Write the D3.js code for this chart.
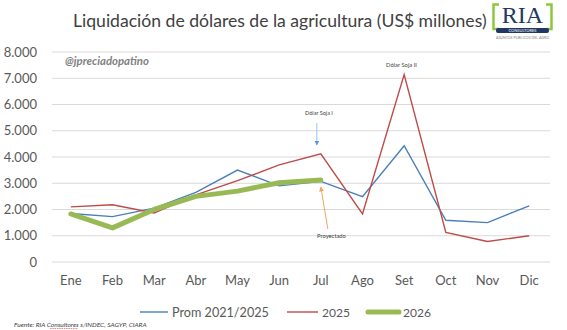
<!DOCTYPE html>
<html>
<head>
<meta charset="utf-8">
<script src="https://cdn.jsdelivr.net/npm/d3@7"></script>
<style>
  body { margin: 0; background: #fff; }
  text { font-family: Lato, "Open Sans", sans-serif; }
</style>
</head>
<body>
<div id="chart"></div>
<script>
// data (US$ millones)
var months = ["Ene", "Feb", "Mar", "Abr", "May", "Jun", "Jul", "Ago", "Set", "Oct", "Nov", "Dic"];
var prom = [1850, 1730, 2050, 2650, 3500, 2900, 3070, 2490, 4430, 1590, 1500, 2140];
var y2025 = [2100, 2180, 1870, 2560, 3100, 3700, 4120, 1830, 7140, 1130, 780, 1000];
var y2026 = [1830, 1300, 2000, 2500, 2700, 3020, 3120];
var yTicks = [0, 1000, 2000, 3000, 4000, 5000, 6000, 7000, 8000];

var W = 567, H = 330;
var margin = {top: 52, right: 17, bottom: 68, left: 50},
    width = W - margin.left - margin.right,
    height = H - margin.top - margin.bottom;

var svg = d3.select("#chart").append("svg")
    .attr("width", W).attr("height", H);

var g = svg.append("g")
    .attr("transform", "translate(" + margin.left + "," + margin.top + ")");

var x = d3.scaleBand().domain(months).range([0, width]);
var y = d3.scaleLinear().domain([0, 8000]).range([height, 0]);
var fmt = function(d) { return d3.format(",")(d).replace(/,/g, "."); };

// shrink/grow a text so it takes the width seen in the picture
function fit(sel, w) {
  sel.each(function() {
    var t = d3.select(this), fs = +t.attr("font-size");
    t.attr("font-size", fs * w / this.getComputedTextLength());
  });
  return sel;
}

// gridlines
g.selectAll(".grid").data(yTicks).enter().append("line")
    .attr("x1", 2).attr("x2", width)
    .attr("y1", function(d) { return y(d); })
    .attr("y2", function(d) { return y(d); })
    .attr("stroke", "#d9d9d9").attr("stroke-width", 1);

// y axis labels
var yAxis = g.append("g").call(d3.axisLeft(y).tickValues(yTicks).tickFormat(fmt).tickSize(0).tickPadding(13));
yAxis.select(".domain").remove();
yAxis.selectAll("text").attr("font-size", 13).attr("fill", "#595959")
    .style("font-family", "Lato, sans-serif");

// x axis labels
var xAxis = g.append("g").attr("transform", "translate(0," + height + ")")
    .call(d3.axisBottom(x).tickSize(0).tickPadding(14));
xAxis.select(".domain").remove();
xAxis.selectAll("text").attr("font-size", 13).attr("fill", "#595959")
    .style("font-family", "Lato, sans-serif");

var line = d3.line()
    .x(function(d, i) { return x(months[i]) + x.bandwidth() / 2; })
    .y(function(d) { return y(d); });

g.append("path").datum(prom).attr("d", line)
    .attr("fill", "none").attr("stroke", "#4a7ebb").attr("stroke-width", 1.4);
g.append("path").datum(y2025).attr("d", line)
    .attr("fill", "none").attr("stroke", "#be4b48").attr("stroke-width", 1.4);
g.append("path").datum(y2026).attr("d", line)
    .attr("fill", "none").attr("stroke", "#98b954").attr("stroke-width", 5)
    .attr("stroke-linecap", "round").attr("stroke-linejoin", "round");

// title
fit(svg.append("text").attr("x", 73).attr("y", 27)
    .attr("font-size", 19).attr("fill", "#404040")
    .text("Liquidación de dólares de la agricultura (US$ millones)"), 414);

// watermark
fit(svg.append("text").attr("x", 65).attr("y", 65)
    .attr("font-size", 11).attr("font-weight", "bold").attr("font-style", "italic")
    .attr("fill", "#7f7f7f").text("@jpreciadopatino"), 84);

// annotations
var cx = function(m) { return margin.left + x(m) + x.bandwidth() / 2; };
var defs = svg.append("defs");
function marker(id, color) {
  defs.append("marker").attr("id", id).attr("viewBox", "0 0 10 10")
    .attr("refX", 9).attr("refY", 5).attr("markerWidth", 5).attr("markerHeight", 5)
    .attr("orient", "auto")
    .append("path").attr("d", "M0,0 L10,5 L0,10 z").attr("fill", color);
}
marker("arrBlue", "#5b9bd5");
marker("arrOrange", "#f4a460");

fit(svg.append("text").attr("x", 305).attr("y", 115)
    .attr("font-size", 6.5).attr("fill", "#404040").text("Dólar Soja I"), 28);
svg.append("line").attr("x1", cx("Jul") - 4).attr("y1", 123).attr("x2", cx("Jul") - 4).attr("y2", 145)
    .attr("stroke", "#9dc3e6").attr("stroke-width", 1).attr("marker-end", "url(#arrBlue)");

fit(svg.append("text").attr("x", 386).attr("y", 67)
    .attr("font-size", 6.5).attr("fill", "#404040").text("Dólar Soja II"), 31);

fit(svg.append("text").attr("x", 317).attr("y", 238)
    .attr("font-size", 6.5).attr("fill", "#404040").text("Proyectado"), 29);
svg.append("line").attr("x1", cx("Jul") + 7).attr("y1", 229).attr("x2", cx("Jul")).attr("y2", 187)
    .attr("stroke", "#f4a460").attr("stroke-width", 1).attr("marker-end", "url(#arrOrange)");

// legend
var legend = [
  {name: "Prom 2021/2025", color: "#4a7ebb", w: 1.4, x: 140, len: 28, tw: 97},
  {name: "2025", color: "#be4b48", w: 1.4, x: 287, len: 31, tw: 28},
  {name: "2026", color: "#98b954", w: 5, x: 368, len: 31, tw: 28}
];
var lg = svg.selectAll(".lg").data(legend).enter().append("g");
lg.append("line").attr("x1", function(d) { return d.x; }).attr("x2", function(d) { return d.x + d.len; })
    .attr("y1", 312).attr("y2", 312)
    .attr("stroke", function(d) { return d.color; }).attr("stroke-width", function(d) { return d.w; })
    .attr("stroke-linecap", function(d) { return d.w > 2 ? "round" : "butt"; });
lg.append("text").attr("x", function(d) { return d.x + d.len + 4; }).attr("y", 317)
    .attr("font-size", 14).attr("fill", "#595959").text(function(d) { return d.name; })
    .each(function(d) { fit(d3.select(this), d.tw); });

// source
var src = svg.append("text").attr("x", 14).attr("y", 327)
    .attr("font-size", 6).attr("font-style", "italic").attr("fill", "#404040")
    .text("Fuente: RIA Consultores s/INDEC, SAGYP, CIARA");
fit(src, 133);
svg.append("line").attr("x1", 50).attr("x2", 78).attr("y1", 328.5).attr("y2", 328.5)
    .attr("stroke", "#e06666").attr("stroke-width", 0.8).attr("stroke-dasharray", "1.5,0.8");

// logo
var logo = svg.append("g").attr("transform", "translate(492,3)");
logo.append("path").attr("d", "M7,1.5 L1.5,1.5 L1.5,26 L7,26").attr("fill", "none")
    .attr("stroke", "#8dc63f").attr("stroke-width", 2.5);
logo.append("path").attr("d", "M54,1.5 L59.5,1.5 L59.5,26 L54,26").attr("fill", "none")
    .attr("stroke", "#8dc63f").attr("stroke-width", 2.5);
logo.append("text").attr("x", 30.5).attr("y", 20).attr("text-anchor", "middle")
    .attr("font-size", 24).attr("fill", "#1f3864")
    .style("font-family", "'Liberation Serif', serif").text("RIA");
logo.append("rect").attr("x", 4).attr("y", 25).attr("width", 53).attr("height", 5).attr("rx", 2).attr("fill", "#1f3864");
logo.append("text").attr("x", 30.5).attr("y", 29).attr("text-anchor", "middle")
    .attr("font-size", 4).attr("fill", "#fff").text("CONSULTORES");
logo.append("text").attr("x", 30.5).attr("y", 35.5).attr("text-anchor", "middle")
    .attr("font-size", 3.6).attr("fill", "#7f7f7f").text("ASUNTOS PUBLICOS DEL AGRO");
</script>
</body>
</html>
